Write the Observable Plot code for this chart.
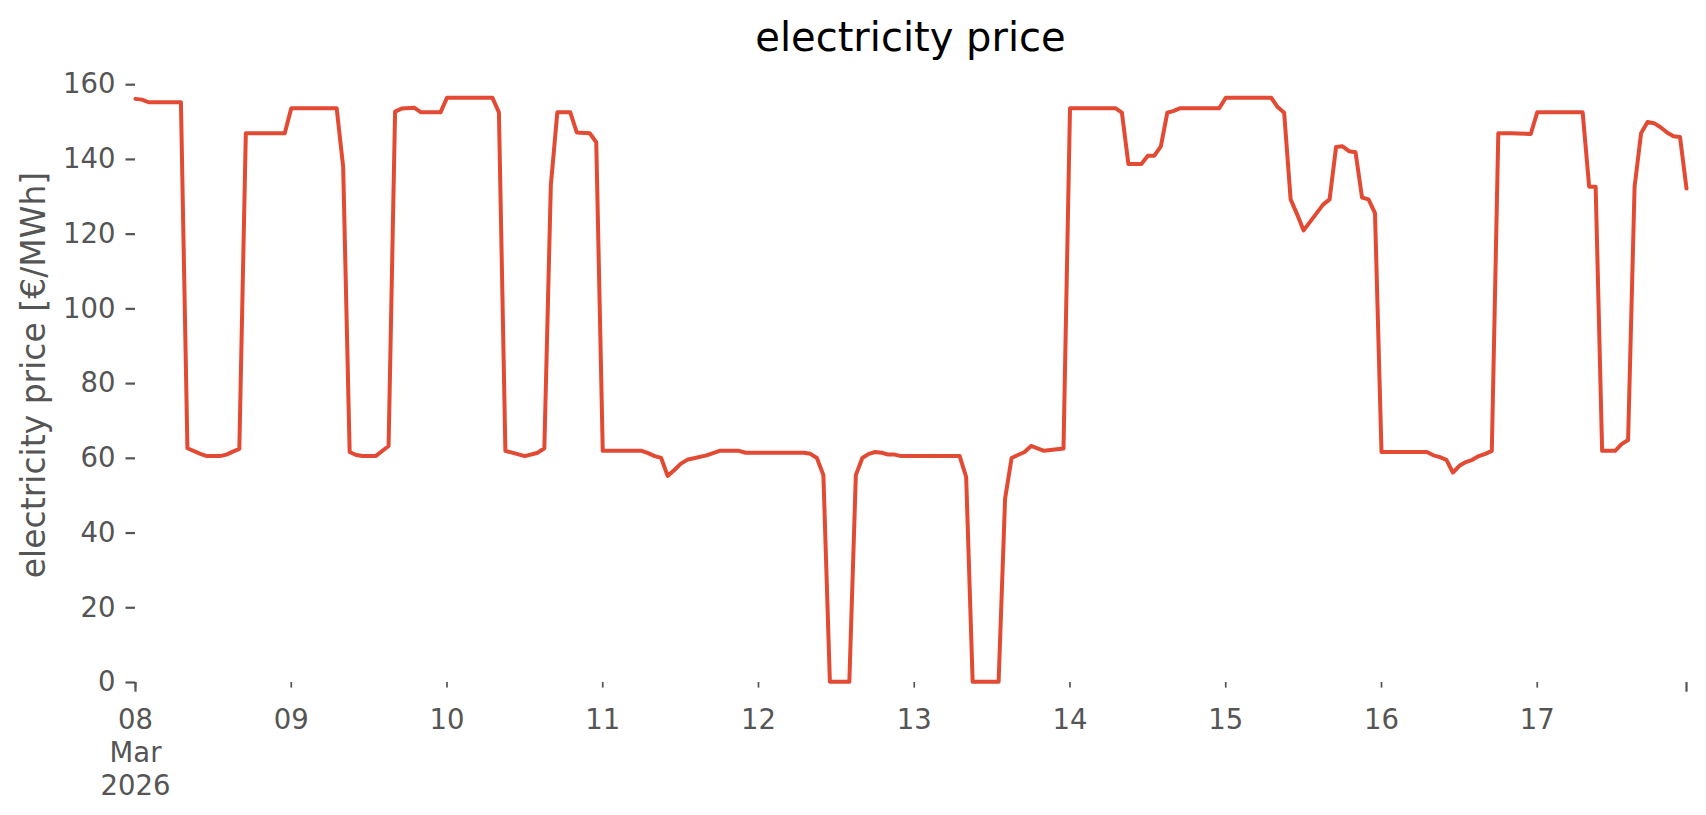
<!DOCTYPE html>
<html>
<head>
<meta charset="utf-8">
<script src="https://cdn.jsdelivr.net/npm/d3@7"></script>
<script src="https://cdn.jsdelivr.net/npm/@observablehq/plot@0.6"></script>
<style>
  html, body { margin: 0; padding: 0; background: #fff; overflow: hidden; }
  #wrap { position: relative; width: 1706px; height: 815px; }
  #title { position: relative; height: 67px; }
  #title span {
    position: absolute; left: 135px; width: 1551px; top: 17px;
    text-align: center; font: 40px "DejaVu Sans"; line-height: 40px; color: #000;
  }
</style>
</head>
<body>
<div id="wrap">
  <div id="title"><span>electricity price</span></div>
  <div id="chart"></div>
</div>
<script>
// Hours since 2026-03-08 00:00 (UTC) at which the price changes slope
const hourOffsets = [
  0, 1, 2, 7, 8, 10, 11, 13, 14, 15, 16, 17, 23, 24, 31, 32, 33, 34, 35, 37, 39,
  40, 41, 43, 44, 47, 48, 55, 56, 57, 60, 62, 63, 64, 65, 67, 68, 70, 71, 72, 78,
  79, 80, 81, 82, 83, 84, 85, 88, 90, 93, 94, 103, 104, 105, 106, 107, 110, 111,
  112, 113, 114, 115, 116, 117, 118, 127, 128, 129, 133, 134, 135, 137, 138, 140,
  143, 144, 151, 152, 153, 155, 156, 157, 158, 159, 160, 161, 167, 168, 175, 176,
  177, 178, 179, 180, 183, 184, 185, 186, 187, 188, 189, 190, 191, 192, 199, 200,
  201, 202, 203, 204, 205, 206, 207, 208, 209, 210, 212, 215, 216, 223, 224, 225,
  226, 228, 229, 230, 231, 232, 233, 234, 235, 236, 237, 238, 239
];
// electricity price [€/MWh]
const prices = [
  156.2, 156.0, 155.3, 155.3, 62.7, 61.2, 60.6, 60.6, 61.0, 61.8, 62.5, 147.0, 147.0, 153.7, 153.7, 138.0, 61.7, 60.9, 60.6, 60.6, 63.3,
  152.8, 153.6, 153.8, 152.6, 152.6, 156.5, 156.5, 152.6, 62.0, 60.6, 61.5, 62.7, 133.0, 152.6, 152.6, 147.2, 147.0, 144.6, 62.0, 62.0,
  61.4, 60.6, 60.1, 55.3, 56.8, 58.5, 59.6, 60.8, 62.0, 62.0, 61.5, 61.5, 61.2, 60.1, 55.5, 0.2, 0.2, 55.5,
  60.1, 61.2, 61.7, 61.5, 61.0, 61.0, 60.6, 60.6, 55.0, 0.2, 0.2, 49.2, 60.1, 61.7, 63.3, 62.0,
  62.6, 153.7, 153.7, 152.5, 138.8, 138.8, 141.0, 141.0, 143.5, 152.5, 153.0, 153.7, 153.7, 156.5, 156.5, 154.0,
  152.5, 129.3, 125.3, 121.0, 127.9, 129.3, 143.3, 143.5, 142.2, 141.9, 129.8, 129.3, 125.6, 61.7, 61.7, 60.8,
  60.3, 59.6, 56.2, 58.0, 59.0, 59.6, 60.6, 61.2, 62.0, 147.0, 147.0, 146.8, 152.6, 152.6, 132.7, 132.7,
  62.0, 62.0, 63.8, 64.9, 132.7, 147.0, 150.0, 149.7, 148.6, 147.2, 146.2, 146.0, 132.2
];
const dayTickDates = ["2026-03-08", "2026-03-09", "2026-03-10", "2026-03-11", "2026-03-12",
  "2026-03-13", "2026-03-14", "2026-03-15", "2026-03-16", "2026-03-17"];
const dayTickLabels = ["08\nMar\n2026", "09", "10", "11", "12", "13", "14", "15", "16", "17"];
const majorTickDates = ["2026-03-08T00:00Z", "2026-03-17T23:00Z"];
const yTicks = [0, 20, 40, 60, 80, 100, 120, 140, 160];
const yDomain = [0, 164.6];
const yLabel = "electricity price [€/MWh]";

const start = Date.UTC(2026, 2, 8, 0, 0);
const data = hourOffsets.map((h, i) => ({date: new Date(start + h * 3600e3), price: prices[i]}));
const dayTicks = dayTickDates.map(d => new Date(d + "T00:00Z"));
const majorTicks = majorTickDates.map(d => new Date(d));
const labelOf = new Map(dayTicks.map((d, i) => [+d, dayTickLabels[i]]));

const chart = Plot.plot({
  width: 1706,
  height: 748,
  marginTop: 0,
  marginLeft: 135,
  marginRight: 20,
  marginBottom: 133,
  style: {fontFamily: "DejaVu Sans", background: "white", overflow: "visible"},
  x: {type: "utc", domain: [majorTicks[0], majorTicks[1]]},
  y: {domain: yDomain},
  marks: [
    Plot.axisY({
      ticks: yTicks, tickSize: 9.5, tickPadding: 10.5, fontSize: 27.5,
      color: "#555555", strokeWidth: 2.2, label: null, tickFormat: d => String(d)
    }),
    Plot.axisX({
      ticks: dayTicks, tickSize: 5.6, tickPadding: 17, fontSize: 27.5, lineHeight: 1.2,
      color: "#555555", strokeWidth: 1.7, label: null, tickFormat: d => labelOf.get(+d)
    }),
    Plot.axisX({
      ticks: majorTicks, tickSize: 9.7, strokeWidth: 2.2, color: "#555555",
      label: null, tickFormat: () => ""
    }),
    Plot.text([yLabel], {
      text: d => d, frameAnchor: "left", rotate: -90, dx: -114, lineAnchor: "top",
      textAnchor: "middle", fontSize: 33, fill: "#555555"
    }),
    Plot.line(data, {x: "date", y: "price", stroke: "#E24A33", strokeWidth: 4, strokeLinejoin: "round"})
  ]
});
document.getElementById("chart").appendChild(chart);
</script>
</body>
</html>
